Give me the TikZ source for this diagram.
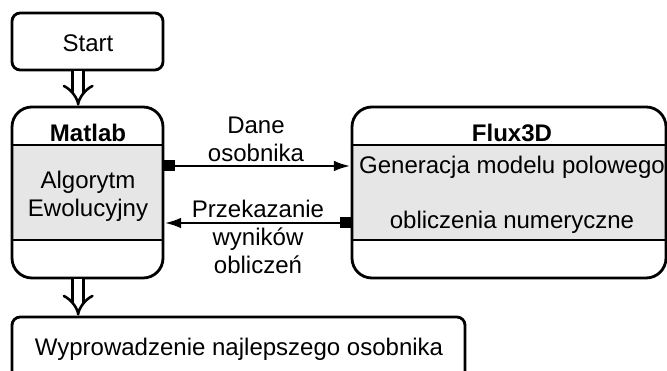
\documentclass[tikz,border=0pt]{standalone}
\usepackage{fontspec}
\setmainfont{Liberation Sans}
\usetikzlibrary{arrows.meta}
\definecolor{bandgray}{RGB}{230,230,230}

\begin{document}
\begin{tikzpicture}[
    x=0.03cm, y=-0.03cm,
    every node/.style={font=\fontsize{20.5}{24}\selectfont},
    box/.style={draw, line width=2.4pt, rounded corners=7pt, inner sep=0pt},
    block/.style={draw, line width=2.4pt, rounded corners=17pt, inner sep=0pt, minimum height=5.13cm},
    txt/.style={inner sep=0pt, align=center},
    flow/.style={double, double distance=7pt, line width=2.2pt, -{Implies}},
    link/.style={{Square[length=0.33cm,width=0.33cm]}-{Latex[length=0.5cm,width=0.32cm]}, line width=2.4pt},
]
\useasboundingbox (0,0) rectangle (667,371);

% Bands
\fill[bandgray] (12,145) rectangle (163,240);
\fill[bandgray] (352,145) rectangle (666,240);

% Boxes
\node[box, minimum width=4.53cm, minimum height=1.71cm] (start) at (87.5,41.5) {};
\node[block, minimum width=4.53cm] (matlab) at (87.5,192.5) {};
\node[block, minimum width=9.42cm] (flux) at (509,192.5) {};
\node[box, minimum width=13.59cm, minimum height=2.34cm] (best) at (238.5,356) {};

% Band edges
\draw[line width=2.4pt] (matlab.west |- 0,145) -- (matlab.east |- 0,145);
\draw[line width=2.4pt] (matlab.west |- 0,240) -- (matlab.east |- 0,240);
\draw[line width=2.4pt] (flux.west |- 0,145) -- (flux.east |- 0,145);
\draw[line width=2.4pt] (flux.west |- 0,240) -- (flux.east |- 0,240);

% Texts
\node[txt] (tstart) at (88,43) {Start};
\node[txt] (tmatlab) at (88,133) {\textbf{Matlab}};
\node[txt] (talg) at (88,196) {Algorytm\\Ewolucyjny};
\node[txt] (tflux) at (512,133) {\textbf{Flux3D}};
\node[txt] (tgen) at (512,167) {Generacja modelu polowego};
\node[txt] (tnum) at (512,222) {obliczenia numeryczne};
\node[txt] (tbest) at (239,349) {Wyprowadzenie najlepszego osobnika};
\node[txt] (tdane) at (256,139) {Dane\\osobnika};
\node[txt] (twyn) at (258,237) {Przekazanie\\wyników\\obliczeń};

% Arrows
\draw[flow] ([xshift=-0.28cm]start.south) -- ([xshift=-0.28cm]matlab.north);
\draw[flow] ([xshift=-0.28cm]matlab.south) -- ([xshift=-0.28cm]matlab.south |- best.north);
\draw[link] (matlab.east |- 0,166) -- (flux.west |- 0,166);
\draw[link] (flux.west |- 0,223) -- (matlab.east |- 0,223);

\end{tikzpicture}
\end{document}
